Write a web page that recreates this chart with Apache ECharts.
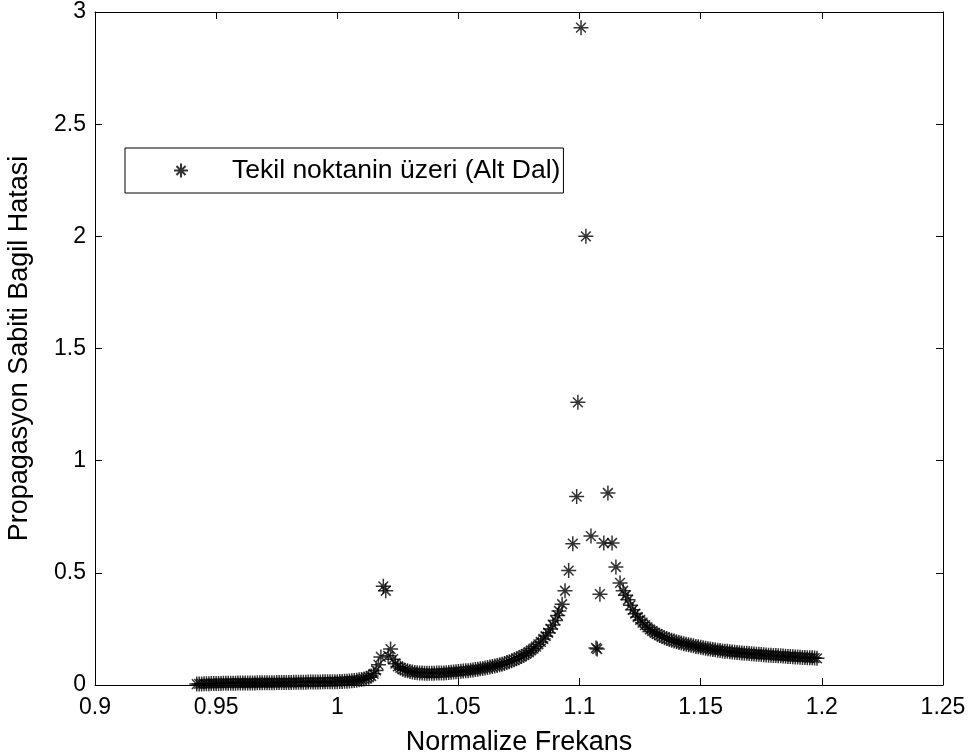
<!DOCTYPE html>
<html>
<head>
<meta charset="utf-8">
<script src="https://cdn.jsdelivr.net/npm/echarts@6/dist/echarts.min.js"></script>
<style>
html,body{margin:0;padding:0;background:#fff;}
#c{width:973px;height:756px;}
</style>
</head>
<body>
<div id="c"></div>
<script>
const xTickLabels = ['0.9','0.95','1','1.05','1.1','1.15','1.2','1.25'];
const yTickLabels = ['0','0.5','1','1.5','2','2.5','3'];
const seriesName = 'Tekil noktanin üzeri (Alt Dal)';
const xName = 'Normalize Frekans';
const yName = 'Propagasyon Sabiti Bagil Hatasi';

const freq = [
0.942,0.943,0.944,0.945,0.946,0.947,0.948,0.949,0.950,
0.951,0.952,0.953,0.954,0.955,0.956,0.957,0.958,0.959,0.960,
0.961,0.962,0.963,0.964,0.965,0.966,0.967,0.968,0.969,0.970,
0.971,0.972,0.973,0.974,0.975,0.976,0.977,0.978,0.979,0.980,
0.981,0.982,0.983,0.984,0.985,0.986,0.987,0.988,0.989,0.990,
0.991,0.992,0.993,0.994,0.995,0.996,0.997,0.998,0.999,1.000,
1.001,1.002,1.003,1.004,1.005,1.006,1.007,1.008,1.009,1.010,
1.011,1.012,1.013,1.014,1.015,1.016,1.017,1.018,1.019,1.020,
1.021,1.022,1.023,1.024,1.025,1.026,1.027,1.028,1.029,1.030,
1.031,1.032,1.033,1.034,1.035,1.036,1.037,1.038,1.039,1.040,
1.041,1.042,1.043,1.044,1.045,1.046,1.047,1.048,1.049,1.050,
1.051,1.052,1.053,1.054,1.055,1.056,1.057,1.058,1.059,1.060,
1.061,1.062,1.063,1.064,1.065,1.066,1.067,1.068,1.069,1.070,
1.071,1.072,1.073,1.074,1.075,1.076,1.077,1.078,1.079,1.080,
1.081,1.082,1.083,1.084,1.085,1.086,1.087,1.088,1.089,1.090,
1.091,1.0915,1.0928,1.0940,1.0955,1.0972,1.0988,1.0993,1.1006,1.1026,
1.1047,1.1068,1.1073,1.1084,1.1100,1.1117,1.1134,1.1150,1.1167,1.1180,
1.1190,1.120,1.121,1.122,1.123,1.124,1.125,1.126,1.127,1.128,
1.129,1.130,1.131,1.132,1.133,1.134,1.135,1.136,1.137,1.138,
1.139,1.140,1.141,1.142,1.143,1.144,1.145,1.146,1.147,1.148,
1.149,1.150,1.151,1.152,1.153,1.154,1.155,1.156,1.157,1.158,
1.159,1.160,1.161,1.162,1.163,1.164,1.165,1.166,1.167,1.168,
1.169,1.170,1.171,1.172,1.173,1.174,1.175,1.176,1.177,1.178,
1.179,1.180,1.181,1.182,1.183,1.184,1.185,1.186,1.187,1.188,
1.189,1.190,1.191,1.192,1.193,1.194,1.195,1.196,1.197,1.198
];
const relErr = [
0.004,0.005,0.005,0.006,0.006,0.006,0.007,0.007,0.007,
0.007,0.007,0.008,0.008,0.008,0.008,0.008,0.008,0.009,0.009,
0.009,0.009,0.009,0.009,0.009,0.009,0.010,0.010,0.010,0.010,
0.010,0.010,0.010,0.010,0.011,0.011,0.011,0.011,0.011,0.011,
0.011,0.012,0.012,0.012,0.012,0.012,0.012,0.013,0.013,0.013,
0.013,0.013,0.013,0.014,0.014,0.014,0.014,0.015,0.015,0.015,
0.016,0.016,0.017,0.017,0.018,0.019,0.020,0.021,0.023,0.025,
0.027,0.030,0.034,0.040,0.050,0.065,0.090,0.125,0.440,0.420,
0.130,0.160,0.115,0.095,0.083,0.076,0.070,0.066,0.063,0.060,
0.058,0.056,0.055,0.054,0.053,0.052,0.052,0.052,0.052,0.052,
0.053,0.053,0.054,0.054,0.055,0.056,0.057,0.058,0.059,0.060,
0.061,0.062,0.063,0.064,0.066,0.067,0.069,0.070,0.072,0.074,
0.076,0.078,0.080,0.082,0.085,0.087,0.090,0.093,0.096,0.100,
0.104,0.108,0.112,0.117,0.122,0.127,0.133,0.139,0.146,0.154,
0.162,0.171,0.181,0.192,0.205,0.218,0.233,0.250,0.268,0.288,
0.310,0.330,0.360,0.420,0.510,0.630,0.840,1.260,2.930,2.000,
0.664,0.165,0.160,0.405,0.633,0.856,0.633,0.526,0.455,0.420,
0.400,0.380,0.355,0.335,0.318,0.303,0.290,0.278,0.267,0.257,
0.248,0.240,0.233,0.227,0.221,0.216,0.211,0.207,0.203,0.199,
0.196,0.193,0.190,0.187,0.184,0.182,0.179,0.177,0.175,0.172,
0.170,0.168,0.166,0.164,0.162,0.160,0.158,0.157,0.155,0.154,
0.152,0.151,0.150,0.148,0.147,0.146,0.145,0.144,0.143,0.142,
0.141,0.140,0.139,0.138,0.137,0.137,0.136,0.135,0.134,0.133,
0.133,0.132,0.131,0.130,0.130,0.129,0.128,0.127,0.127,0.126,
0.125,0.125,0.124,0.123,0.123,0.122,0.121,0.121,0.120,0.119
];

const points = freq.map((f, i) => [f, relErr[i]]);
const FONT = 'Liberation Sans, Arial, Helvetica, sans-serif';
const TICK_FS = 23;
const LABEL_FS = 27;
const LEGEND_FS = 26.5;
const star = 'path://M0,6L12,6M6,0L6,12M2.1,2.1L9.9,9.9M2.1,9.9L9.9,2.1';

function fmt(labels) {
  return function (v) {
    for (const l of labels) { if (Math.abs(parseFloat(l) - v) < 1e-6) return l; }
    return '';
  };
}
const lineStyle = { color: '#000', width: 1 };
const chart = echarts.init(document.getElementById('c'), null, { renderer: 'canvas' });
chart.setOption({
  animation: false,
  backgroundColor: '#fff',
  textStyle: { fontFamily: FONT },
  grid: { left: 95, right: 30, top: 12, bottom: 71, containLabel: false, outerBoundsMode: 'none' },
  legend: {
    left: 125, top: 148,
    padding: [9, 3, 9, 48],
    itemWidth: 14, itemHeight: 14,
    borderColor: '#000', borderWidth: 1, backgroundColor: '#fff',
    textStyle: { fontSize: LEGEND_FS, color: '#000', fontFamily: FONT, padding: [0, 0, 0, 39] },
    data: [seriesName]
  },
  xAxis: [{
    type: 'value', min: 0.9, max: 1.25, interval: 0.05, position: 'bottom',
    name: xName, nameLocation: 'middle', nameGap: 44,
    nameTextStyle: { fontSize: LABEL_FS, color: '#000', fontFamily: FONT },
    axisLine: { show: true, onZero: false, lineStyle },
    axisTick: { show: true, inside: true, length: 7, lineStyle },
    axisLabel: { color: '#000', fontSize: TICK_FS, margin: 11, formatter: fmt(xTickLabels), fontFamily: FONT },
    splitLine: { show: false }
  }, {
    type: 'value', min: 0.9, max: 1.25, interval: 0.05, position: 'top',
    axisLine: { show: true, onZero: false, lineStyle },
    axisTick: { show: true, inside: true, length: 7, lineStyle },
    axisLabel: { show: false }, splitLine: { show: false }
  }],
  yAxis: [{
    type: 'value', min: 0, max: 3, interval: 0.5, position: 'left',
    name: yName, nameLocation: 'middle', nameGap: 62, nameRotate: 90,
    nameTextStyle: { fontSize: LABEL_FS, color: '#000', fontFamily: FONT },
    axisLine: { show: true, onZero: false, lineStyle },
    axisTick: { show: true, inside: true, length: 7, lineStyle },
    axisLabel: { color: '#000', fontSize: TICK_FS, margin: 9, formatter: fmt(yTickLabels), fontFamily: FONT },
    splitLine: { show: false }
  }, {
    type: 'value', min: 0, max: 3, interval: 0.5, position: 'right',
    axisLine: { show: true, onZero: false, lineStyle },
    axisTick: { show: true, inside: true, length: 7, lineStyle },
    axisLabel: { show: false }, splitLine: { show: false }
  }],
  series: [{
    name: seriesName,
    type: 'scatter',
    xAxisIndex: 0, yAxisIndex: 0,
    symbol: star, symbolSize: 15, symbolKeepAspect: true,
    itemStyle: { color: 'rgba(0,0,0,0)', borderColor: '#000', borderWidth: 1.5 },
    emphasis: { disabled: true },
    data: points
  }]
});
</script>
</body>
</html>
